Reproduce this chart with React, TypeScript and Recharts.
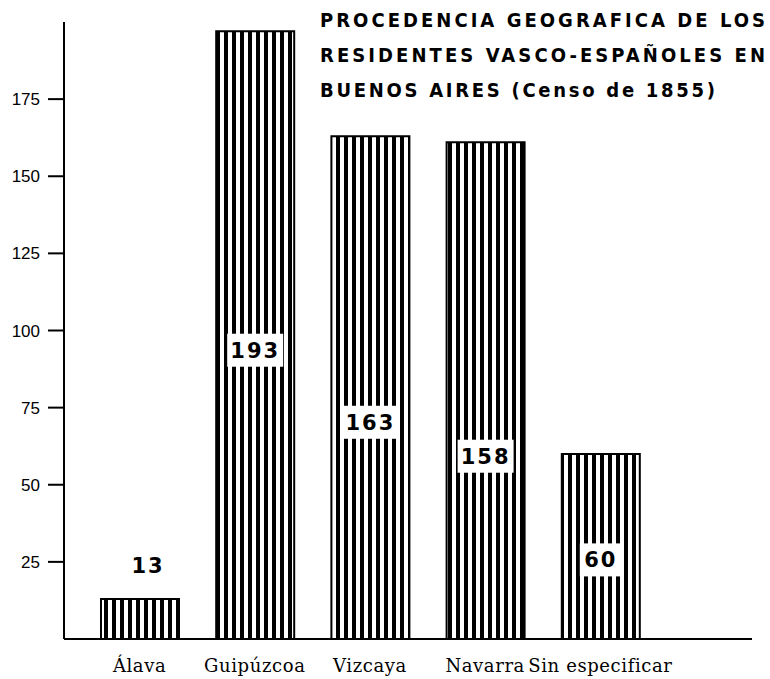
import { BarChart, Bar, XAxis, YAxis, LabelList, Customized } from 'recharts';

// Data
const categories = ['Álava', 'Guipúzcoa', 'Vizcaya', 'Navarra', 'Sin especificar'];
const barHeights = [13, 197, 163, 161, 60];
const barLabels = ['13', '193', '163', '158', '60'];
const yTicks = [25, 50, 75, 100, 125, 150, 175];
const titleLines = [
  'PROCEDENCIA GEOGRAFICA DE LOS',
  'RESIDENTES VASCO-ESPAÑOLES EN',
  'BUENOS AIRES (Censo de 1855)',
];

const data = categories.map((name, i) => ({ name, value: barHeights[i], label: barLabels[i] }));

// where the number box sits, as a fraction of bar height (null = above the bar)
const labelFrac = [null, 0.476, 0.432, 0.369, 0.43];
const titleWidths = [445, 445, 395];

const Title = () => (
  <g>
    <defs>
      <pattern id="stripes" patternUnits="userSpaceOnUse" width="8" height="8">
        <rect width="8" height="8" fill="#fff" />
        <rect x="0" width="4" height="8" fill="#000" />
      </pattern>
    </defs>
    {titleLines.map((t, i) => (
      <text
        key={i}
        x={320}
        y={27 + i * 35}
        fontFamily="DejaVu Sans Condensed, DejaVu Sans"
        fontWeight="bold"
        fontSize={20}
        textLength={titleWidths[i]}
        lengthAdjust="spacing"
        fill="#000"
      >
        {t}
      </text>
    ))}
  </g>
);

const BarNumber = (props: any) => {
  const { x, y, width, height, index, value } = props;
  const cx = Number(x) + Number(width) / 2;
  const frac = labelFrac[index];
  const txt = String(value);
  if (frac === null) {
    return (
      <text x={cx + 8} y={Number(y) - 33} textAnchor="middle" dominantBaseline="central"
        fontFamily="DejaVu Sans" fontWeight="bold" fontSize={21} letterSpacing={2} fill="#000">
        {txt}
      </text>
    );
  }
  const cy = Number(y) + Number(height) * (1 - frac);
  const w = txt.length * 14 + 14;
  return (
    <g>
      <rect x={cx - w / 2} y={cy - 16} width={w} height={33} fill="#fff" />
      <text x={cx} y={cy + 1} textAnchor="middle" dominantBaseline="central"
        fontFamily="DejaVu Sans" fontWeight="bold" fontSize={21} letterSpacing={2} fill="#000">
        {txt}
      </text>
    </g>
  );
};

export default function App() {
  return (
    <div style={{ position: 'absolute', left: 0, top: 0, background: '#fff' }}>
      <BarChart width={770} height={679} data={data} margin={{ top: 22, right: 18, left: 0, bottom: 0 }}>
        <Customized component={Title} />
        <XAxis
          dataKey="name"
          height={40}
          padding={{ left: 18, right: 94 }}
          axisLine={{ stroke: '#000', strokeWidth: 2 }}
          tickLine={false}
          tickSize={0}
          tickMargin={20}
          interval={0}
          tick={{ fill: '#000', fontFamily: 'DejaVu Serif', fontSize: 18, letterSpacing: 0.6 }}
        />
        <YAxis
          width={64}
          domain={[0, 200]}
          ticks={yTicks}
          axisLine={{ stroke: '#000', strokeWidth: 2 }}
          tickLine={{ stroke: '#000', strokeWidth: 2 }}
          tickSize={16}
          tickMargin={8}
          tick={{ fill: '#000', fontFamily: 'Liberation Sans', fontSize: 17 }}
        />
        <Bar dataKey="value" barSize={78} fill="url(#stripes)" stroke="#000" strokeWidth={2} isAnimationActive={false}>
          <LabelList dataKey="label" content={BarNumber} />
        </Bar>
      </BarChart>
    </div>
  );
}
